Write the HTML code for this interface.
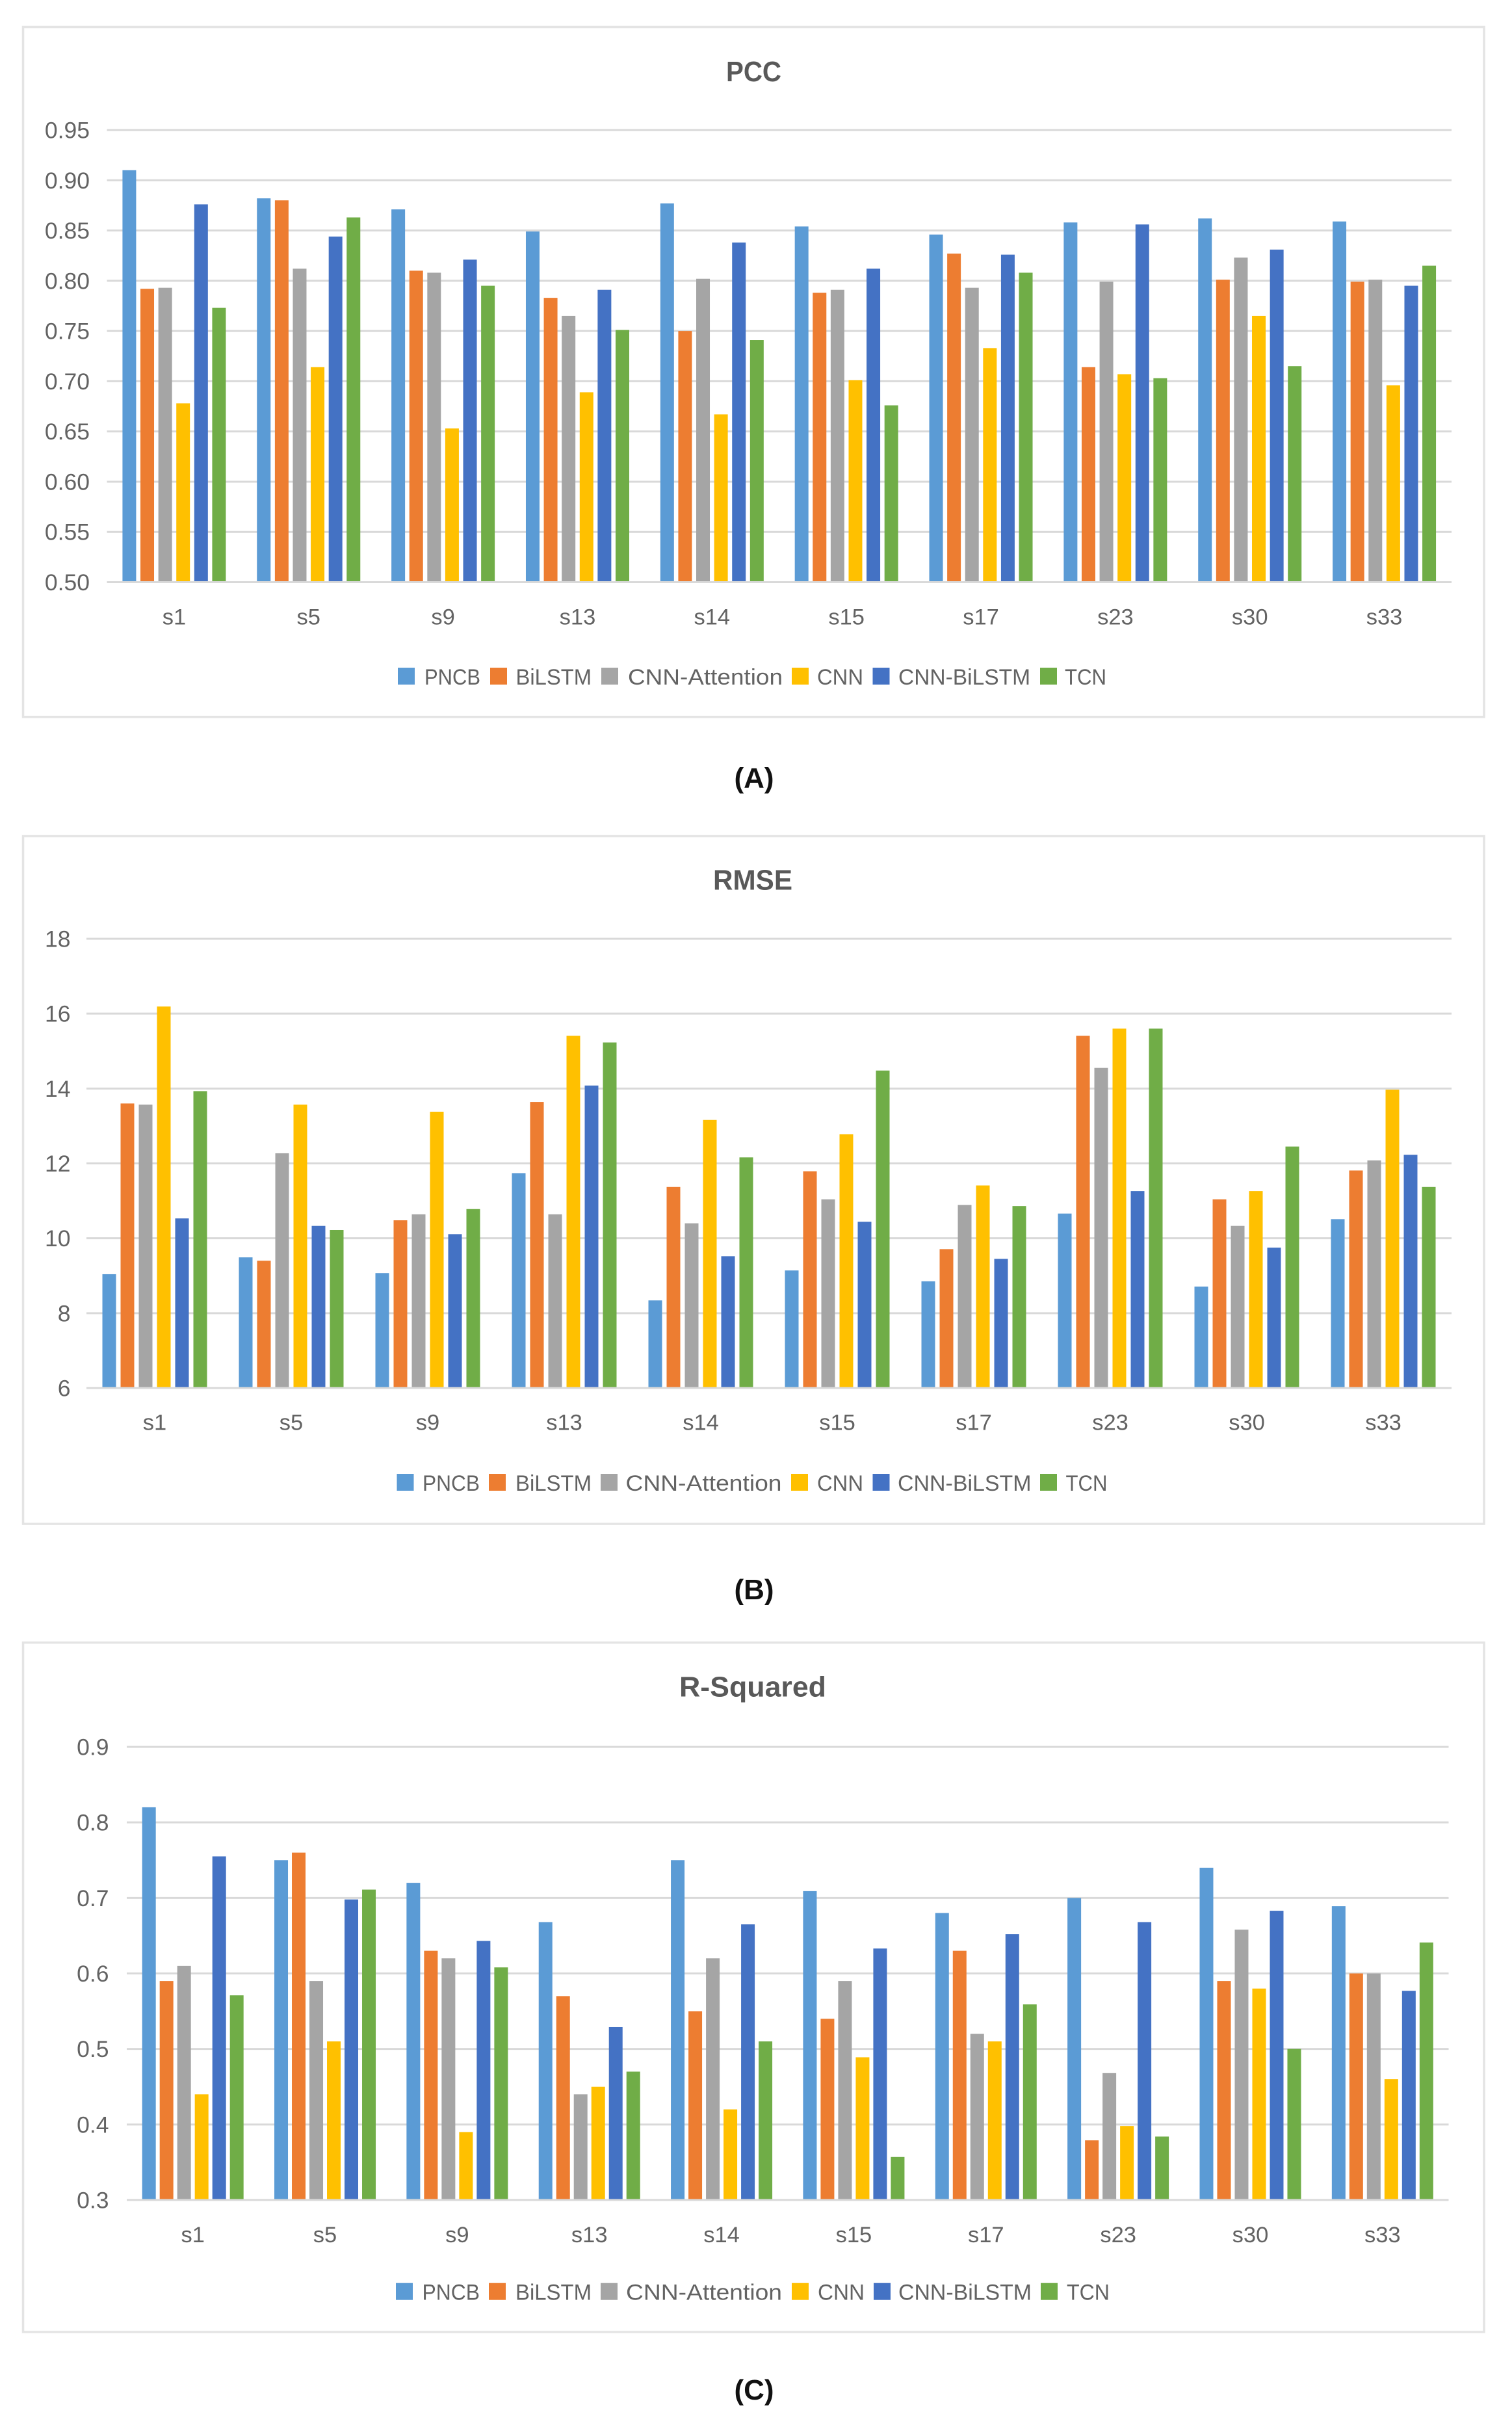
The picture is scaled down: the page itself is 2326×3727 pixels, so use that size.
<!DOCTYPE html>
<html lang="en">
<head>
<meta charset="utf-8">
<title>PCC, RMSE and R-Squared comparison</title>
<style>
html,body{margin:0;padding:0;background:#fff}
svg{display:block}
text{font-family:"Liberation Sans",Arial,sans-serif}
</style>
</head>
<body>
<svg id="figure" xmlns="http://www.w3.org/2000/svg" width="2326" height="3727" viewBox="0 0 2326 3727">
  <rect x="0" y="0" width="2326" height="3727" fill="#ffffff"/>
</svg>
<script>
const categories = ['s1','s5','s9','s13','s14','s15','s17','s23','s30','s33'];
const seriesNames = ['PNCB','BiLSTM','CNN-Attention','CNN','CNN-BiLSTM','TCN'];
const seriesColors = ['#5B9BD5','#ED7D31','#A5A5A5','#FFC000','#4472C4','#70AD47'];

const pccTicks = ['0.50','0.55','0.60','0.65','0.70','0.75','0.80','0.85','0.90','0.95'];
const pccPncb = [0.910,0.882,0.871,0.849,0.877,0.854,0.846,0.858,0.862,0.859];
const pccBilstm = [0.792,0.880,0.810,0.783,0.750,0.788,0.827,0.714,0.801,0.799];
const pccAttention = [0.793,0.812,0.808,0.765,0.802,0.791,0.793,0.799,0.823,0.801];
const pccCnn = [0.678,0.714,0.653,0.689,0.667,0.701,0.733,0.707,0.765,0.696];
const pccCnnBilstm = [0.876,0.844,0.821,0.791,0.838,0.812,0.826,0.856,0.831,0.795];
const pccTcn = [0.773,0.863,0.795,0.751,0.741,0.676,0.808,0.703,0.715,0.815];

const rmseTicks = ['6','8','10','12','14','16','18'];
const rmsePncb = [9.04,9.49,9.07,11.74,8.34,9.14,8.85,10.66,8.71,10.51];
const rmseBilstm = [13.60,9.40,10.48,13.64,11.37,11.79,9.71,15.41,11.04,11.81];
const rmseAttention = [13.57,12.27,10.64,10.64,10.40,11.04,10.89,14.55,10.33,12.08];
const rmseCnn = [16.19,13.57,13.38,15.41,13.16,12.78,11.41,15.60,11.26,13.97];
const rmseCnnBilstm = [10.53,10.33,10.11,14.08,9.52,10.44,9.45,11.26,9.75,12.23];
const rmseTcn = [13.93,10.22,10.78,15.23,12.16,14.48,10.86,15.60,12.45,11.37];

const r2Ticks = ['0.3','0.4','0.5','0.6','0.7','0.8','0.9'];
const r2Pncb = [0.820,0.750,0.720,0.668,0.750,0.709,0.680,0.700,0.740,0.689];
const r2Bilstm = [0.590,0.760,0.630,0.570,0.550,0.540,0.630,0.379,0.590,0.600];
const r2Attention = [0.610,0.590,0.620,0.440,0.620,0.590,0.520,0.468,0.658,0.600];
const r2Cnn = [0.440,0.510,0.390,0.450,0.420,0.489,0.510,0.398,0.580,0.460];
const r2CnnBilstm = [0.755,0.698,0.643,0.529,0.665,0.633,0.652,0.668,0.683,0.577];
const r2Tcn = [0.571,0.711,0.608,0.470,0.510,0.357,0.559,0.384,0.500,0.641];

const charts = [
  {
    key: 'pcc', title: 'PCC', caption: '(A)', ticks: pccTicks,
    series: [pccPncb, pccBilstm, pccAttention, pccCnn, pccCnnBilstm, pccTcn],
    card: {top: 41.5, bottom: 1102.7},
    plot: {left: 164.5, right: 2233, top: 200, bottom: 895.5, pitch: 27.6, tickEnd: 138},
    titleBox: {x: 1117, w: 85, y: 125},
    xLabelY: 960.5, captionY: 1211.7,
    legend: {y: 1027, swatchX: [612,754,925,1218,1342.5,1600], textX: [653,793.5,966,1257,1382,1638], textW: [86,116.5,238,71,203,64]}
  },
  {
    key: 'rmse', title: 'RMSE', caption: '(B)', ticks: rmseTicks,
    series: [rmsePncb, rmseBilstm, rmseAttention, rmseCnn, rmseCnnBilstm, rmseTcn],
    card: {top: 1286, bottom: 2344},
    plot: {left: 133, right: 2233, top: 1444, bottom: 2135, pitch: 28, tickEnd: 108.5},
    titleBox: {x: 1097, w: 122, y: 1368.5},
    xLabelY: 2199.5, captionY: 2460,
    legend: {y: 2267, swatchX: [610.5,752,924,1217,1342.5,1600], textX: [650,793,962.5,1257,1381,1639.5], textW: [88,117,240,71,205.5,64]}
  },
  {
    key: 'r-squared', title: 'R-Squared', caption: '(C)', ticks: r2Ticks,
    series: [r2Pncb, r2Bilstm, r2Attention, r2Cnn, r2CnnBilstm, r2Tcn],
    card: {top: 2526.6, bottom: 3587},
    plot: {left: 195, right: 2228.5, top: 2687, bottom: 3384, pitch: 27, tickEnd: 167.5},
    titleBox: {x: 1045, w: 226, y: 2609.5},
    xLabelY: 3449, captionY: 3691,
    legend: {y: 3511.7, swatchX: [609,752,924,1218,1344,1601], textX: [649.5,793,963,1258,1382,1641], textW: [88.5,117,240,72,205,66]}
  }
];

const svg = document.getElementById('figure');
const NS = 'http://www.w3.org/2000/svg';

function shape(parent, tag, attrs, content) {
  const el = document.createElementNS(NS, tag);
  for (const k in attrs) el.setAttribute(k, attrs[k]);
  if (content !== undefined) el.textContent = content;
  parent.appendChild(el);
  return el;
}

function yScale(chart) {
  const lo = Number(chart.ticks[0]);
  const hi = Number(chart.ticks[chart.ticks.length - 1]);
  return v => chart.plot.bottom - (v - lo) / (hi - lo) * (chart.plot.bottom - chart.plot.top);
}

function groupCenter(chart, i) {
  const g = (chart.plot.right - chart.plot.left) / categories.length;
  return chart.plot.left + g * (i + 0.5);
}

function barLeft(chart, i, s) {
  const barW = 21;
  return groupCenter(chart, i) + (s - (seriesNames.length - 1) / 2) * chart.plot.pitch - barW / 2;
}

charts.forEach(chart => {
  const y = yScale(chart);
  const group = shape(svg, 'g', {});
  
  

  const card = shape(group, 'rect', {x: 35.5, y: chart.card.top, width: 2247.5, height: chart.card.bottom - chart.card.top, fill: '#ffffff', stroke: '#e4e4e4', 'stroke-width': 3.5});
  
  

  const title = shape(group, 'text', {x: chart.titleBox.x, y: chart.titleBox.y, 'font-size': 44, 'font-weight': 'bold', fill: '#595959', textLength: chart.titleBox.w, lengthAdjust: 'spacingAndGlyphs'}, chart.title);
  
  

  chart.ticks.forEach(t => {
    const yy = y(Number(t));
    const line = shape(group, 'line', {x1: chart.plot.left, x2: chart.plot.right, y1: yy, y2: yy, stroke: '#d9d9d9', 'stroke-width': 3});
    
    
    const label = shape(group, 'text', {x: chart.plot.tickEnd, y: yy + 12.5, 'text-anchor': 'end', 'font-size': 35.5, fill: '#636363'}, t);
    
    
  });

  chart.series.forEach((values, s) => {
    values.forEach((v, i) => {
      const top = y(v);
      const bar = shape(group, 'rect', {x: barLeft(chart, i, s), y: top, width: 21, height: Math.max(0, chart.plot.bottom - 1.5 - top), fill: seriesColors[s]});
      
      
    });
  });

  categories.forEach((c, i) => {
    const label = shape(group, 'text', {x: groupCenter(chart, i), y: chart.xLabelY, 'text-anchor': 'middle', 'font-size': 34.5, fill: '#636363'}, c);
    
    
  });

  seriesNames.forEach((name, s) => {
    const swatch = shape(group, 'rect', {x: chart.legend.swatchX[s], y: chart.legend.y, width: 26, height: 26, fill: seriesColors[s]});
    
    
    const text = shape(group, 'text', {x: chart.legend.textX[s], y: chart.legend.y + 26, 'font-size': 34.5, fill: '#636363', textLength: chart.legend.textW[s], lengthAdjust: 'spacingAndGlyphs'}, name);
    
    
  });

  const cap = shape(svg, 'text', {x: 1160, y: chart.captionY, 'text-anchor': 'middle', 'font-size': 44, 'font-weight': 'bold', fill: '#111111'}, chart.caption);
  
  
});
</script>
</body>
</html>
